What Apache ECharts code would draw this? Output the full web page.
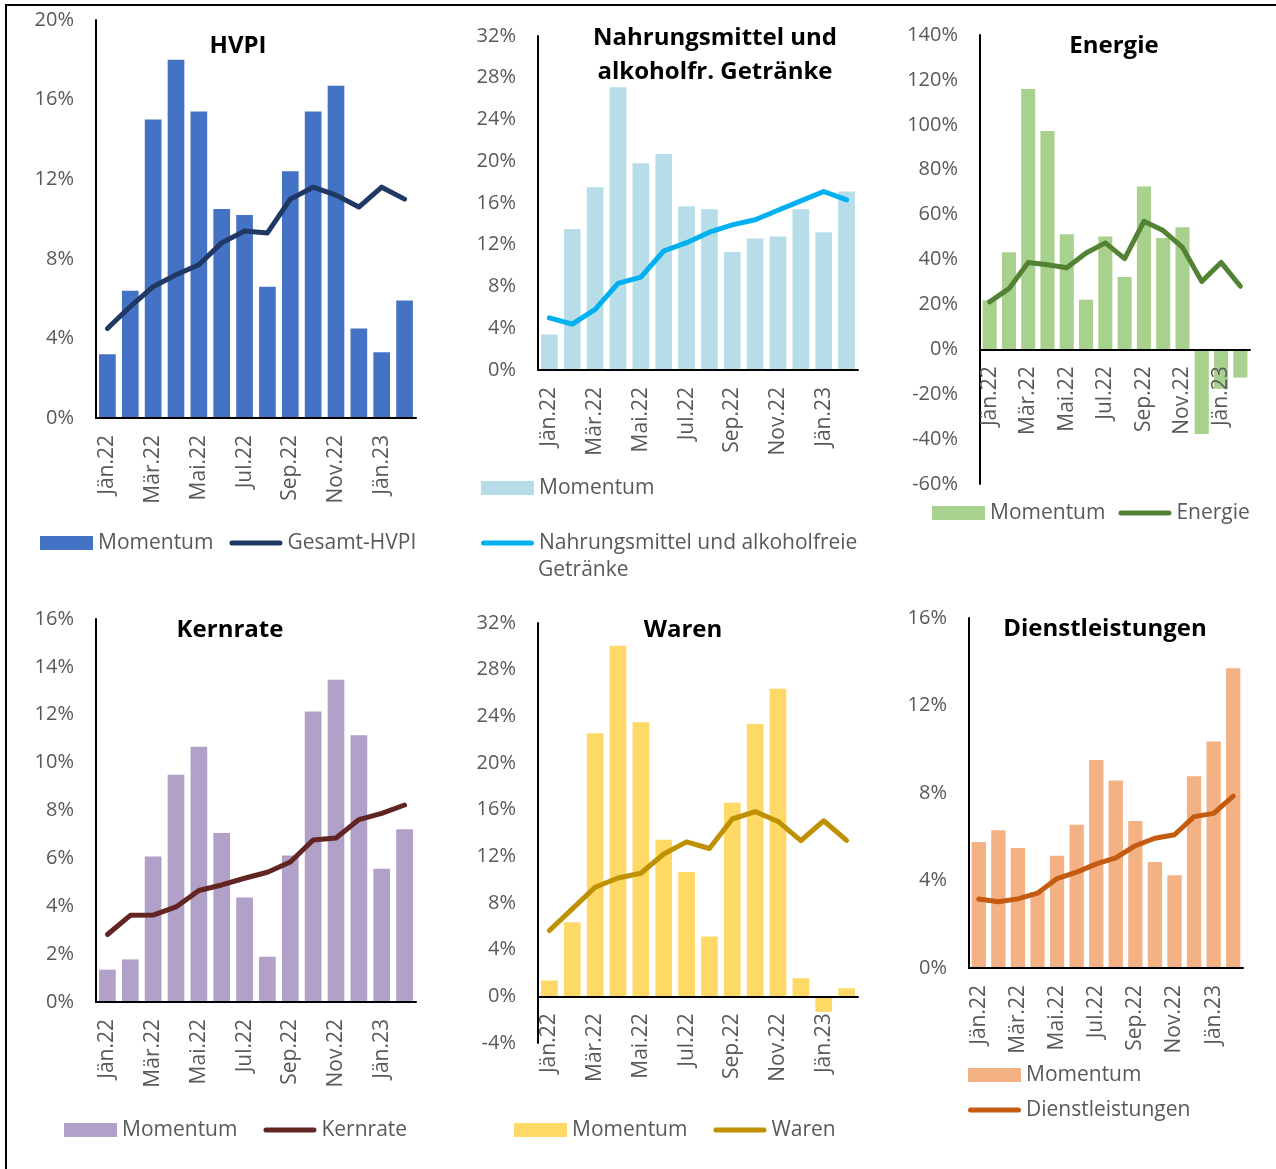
<!DOCTYPE html>
<html>
<head>
<meta charset="utf-8">
<script src="https://cdn.jsdelivr.net/npm/echarts@6/dist/echarts.min.js"></script>
<style>
  body { margin: 0; background: #fff; }
  #page { position: relative; width: 1276px; height: 1169px; overflow: hidden; background: #fff; }
  .frame { position: absolute; left: 5px; top: 4px; width: 1272px; height: 1170px; border-left: 2px solid #000; border-top: 2px solid #000; }
  .chart { position: absolute; }
</style>
</head>
<body>
<div id="page">
  <div class="frame"></div>
  <div id="hvpi" class="chart" style="left:0;top:0;width:430px;height:590px"></div>
  <div id="food" class="chart" style="left:430px;top:0;width:440px;height:590px"></div>
  <div id="energy" class="chart" style="left:870px;top:0;width:406px;height:590px"></div>
  <div id="core" class="chart" style="left:0;top:590px;width:430px;height:579px"></div>
  <div id="goods" class="chart" style="left:430px;top:590px;width:440px;height:579px"></div>
  <div id="serv" class="chart" style="left:870px;top:590px;width:406px;height:579px"></div>
</div>
<script>
// Monate
var months = ["Jän.22", "Feb.22", "Mär.22", "Apr.22", "Mai.22", "Jun.22", "Jul.22",
  "Aug.22", "Sep.22", "Okt.22", "Nov.22", "Dez.22", "Jän.23", "Feb.23"];

// HVPI
var hvpiMom = [3.2, 6.4, 15.0, 18.0, 15.4, 10.5, 10.2, 6.6, 12.4, 15.4, 16.7, 4.5, 3.3, 5.9];
var hvpiRate = [4.5, 5.6, 6.6, 7.2, 7.7, 8.8, 9.4, 9.3, 11.0, 11.6, 11.2, 10.6, 11.6, 11.0];

// Nahrungsmittel und alkoholfreie Getränke
var foodMom = [3.4, 13.5, 17.5, 27.1, 19.8, 20.7, 15.7, 15.4, 11.3, 12.6, 12.8, 15.4, 13.2, 17.1];
var foodRate = [5.0, 4.4, 5.8, 8.3, 8.9, 11.4, 12.2, 13.2, 13.9, 14.4, 15.3, 16.2, 17.1, 16.3];

// Energie
var energyMom = [21.8, 43.2, 115.9, 97.2, 51.3, 22.1, 50.3, 32.2, 72.5, 49.6, 54.4, -37.7, -17.6, -12.6];
var energyRate = [21.1, 27.0, 38.7, 37.7, 36.3, 42.9, 47.4, 40.4, 57.0, 52.9, 45.4, 30.2, 38.7, 28.1];

// Kernrate
var coreMom = [1.35, 1.78, 6.08, 9.49, 10.66, 7.06, 4.37, 1.89, 6.12, 12.14, 13.46, 11.14, 5.57, 7.22];
var coreRate = [2.82, 3.62, 3.63, 3.97, 4.66, 4.89, 5.17, 5.42, 5.85, 6.77, 6.85, 7.62, 7.88, 8.23];

// Waren
var goodsMom = [1.36, 6.34, 22.56, 30.04, 23.5, 13.43, 10.65, 5.13, 16.6, 23.35, 26.36, 1.55, -1.33, 0.7];
var goodsRate = [5.64, 7.5, 9.35, 10.14, 10.55, 12.2, 13.24, 12.67, 15.2, 15.84, 14.99, 13.34, 15.05, 13.37];

// Dienstleistungen
var servMom = [5.76, 6.30, 5.49, 3.48, 5.13, 6.55, 9.51, 8.57, 6.72, 4.85, 4.24, 8.77, 10.35, 13.7];
var servRate = [3.15, 3.03, 3.16, 3.42, 4.09, 4.38, 4.76, 5.03, 5.59, 5.93, 6.09, 6.92, 7.07, 7.86];

var FONT = '"Open Sans", "Noto Sans", sans-serif';
var GREY = "#595959";
// dicker Strich mit runden Enden als Legendensymbol der Linien
var LINE_ICON = "path://M2.5,0H50.5A2.5,2.5 0 0 1 50.5,5H2.5A2.5,2.5 0 0 1 2.5,0Z";

function legendBox(o) {
  return Object.assign({
    orient: "horizontal",
    padding: 0,
    itemWidth: 53,
    itemHeight: 14,
    itemGap: 16,
    textStyle: { color: GREY, fontSize: 21, lineHeight: 24, fontFamily: FONT }
  }, o);
}

function drawPanel(id, p) {
  var chart = echarts.init(document.getElementById(id));
  // x-Achse samt Beschriftung auf die Nulllinie schieben
  var zeroShift = p.min < 0 ? -p.grid.height * (0 - p.min) / (p.max - p.min) : 0;
  chart.setOption({
    animation: false,
    textStyle: { fontFamily: FONT },
    title: {
      text: p.title,
      left: p.titleX,
      top: p.titleY,
      padding: 0,
      textAlign: "center",
      textStyle: { fontSize: 24, fontWeight: "bold", color: "#000", lineHeight: p.titleLH || 30, fontFamily: FONT }
    },
    grid: p.grid,
    legend: p.legend,
    graphic: p.graphic || [],
    xAxis: {
      type: "category",
      data: months,
      z: 3,
      offset: zeroShift,
      axisLine: { onZero: false, lineStyle: { color: "#000", width: 2 } },
      axisTick: { interval: 1, length: 7, lineStyle: { color: "#000", width: 2 } },
      axisLabel: { interval: 1, rotate: 90, margin: 17, color: GREY, fontSize: 21 }
    },
    yAxis: {
      type: "value",
      min: p.min,
      max: p.max,
      interval: p.interval,
      axisLine: { show: true, lineStyle: { color: "#000", width: 2 } },
      axisTick: { show: false },
      splitLine: { show: false },
      axisLabel: { formatter: "{value}%", color: GREY, fontSize: 20, margin: 22 }
    },
    series: [
      {
        name: "Momentum",
        type: "bar",
        data: p.mom,
        barWidth: "73%",
        itemStyle: { color: p.barColor }
      },
      {
        name: p.lineName,
        type: "line",
        data: p.rate,
        z: 4,
        symbol: "none",
        lineStyle: { color: p.lineColor, width: 5, cap: "round", join: "round" },
        itemStyle: { color: p.lineColor }
      }
    ]
  });
}

drawPanel("hvpi", {
  title: "HVPI", titleX: 238, titleY: 31,
  grid: { left: 96, top: 20, width: 320, height: 398 },
  min: 0, max: 20, interval: 4,
  mom: hvpiMom, rate: hvpiRate, lineName: "Gesamt-HVPI",
  barColor: "#4472C4", lineColor: "#1F3864",
  legend: legendBox({ left: 40, top: 531, itemGap: 16,
    data: [{ name: "Momentum", icon: "rect" }, { name: "Gesamt-HVPI", icon: LINE_ICON }] })
});

drawPanel("food", {
  title: "Nahrungsmittel und\nalkoholfr. Getränke", titleX: 285, titleY: 21, titleLH: 34,
  grid: { left: 108, top: 36, width: 320, height: 334 },
  min: 0, max: 32, interval: 4,
  mom: foodMom, rate: foodRate, lineName: "Nahrungsmittel und alkoholfreie Getränke",
  barColor: "#B7DEE8", lineColor: "#00B0F0",
  legend: [
    legendBox({ left: 51, top: 476, data: [{ name: "Momentum", icon: "rect" }] }),
    legendBox({ left: 51, top: 531,
      data: [{ name: "Nahrungsmittel und alkoholfreie Getränke", icon: LINE_ICON }],
      formatter: function () { return "Nahrungsmittel und alkoholfreie"; } })
  ],
  graphic: [{
    type: "text", left: 108, top: 560,
    style: { text: "Getränke", fill: GREY, fontSize: 21, fontFamily: FONT }
  }]
});

drawPanel("energy", {
  title: "Energie", titleX: 244, titleY: 31,
  grid: { left: 110, top: 35, width: 270, height: 449 },
  min: -60, max: 140, interval: 20,
  mom: energyMom, rate: energyRate, lineName: "Energie",
  barColor: "#A9D18E", lineColor: "#548235",
  legend: legendBox({ left: 62, top: 501, itemGap: 13,
    data: [{ name: "Momentum", icon: "rect" }, { name: "Energie", icon: LINE_ICON }] })
});

drawPanel("core", {
  title: "Kernrate", titleX: 230, titleY: 25,
  grid: { left: 96, top: 29, width: 320, height: 383 },
  min: 0, max: 16, interval: 2,
  mom: coreMom, rate: coreRate, lineName: "Kernrate",
  barColor: "#B1A0C7", lineColor: "#632523",
  legend: legendBox({ left: 64, top: 528, itemGap: 26,
    data: [{ name: "Momentum", icon: "rect" }, { name: "Kernrate", icon: LINE_ICON }] })
});

drawPanel("goods", {
  title: "Waren", titleX: 253, titleY: 25,
  grid: { left: 108, top: 33, width: 320, height: 420 },
  min: -4, max: 32, interval: 4,
  mom: goodsMom, rate: goodsRate, lineName: "Waren",
  barColor: "#FFD966", lineColor: "#BF9000",
  legend: legendBox({ left: 84, top: 528, itemGap: 26,
    data: [{ name: "Momentum", icon: "rect" }, { name: "Waren", icon: LINE_ICON }] })
});

drawPanel("serv", {
  title: "Dienstleistungen", titleX: 235, titleY: 24,
  grid: { left: 99, top: 28, width: 274, height: 350 },
  min: 0, max: 16, interval: 4,
  mom: servMom, rate: servRate, lineName: "Dienstleistungen",
  barColor: "#F4B183", lineColor: "#C55A11",
  legend: legendBox({ left: 98, top: 473, orient: "vertical", itemGap: 11,
    data: [{ name: "Momentum", icon: "rect" }, { name: "Dienstleistungen", icon: LINE_ICON }] })
});
</script>
</body>
</html>
